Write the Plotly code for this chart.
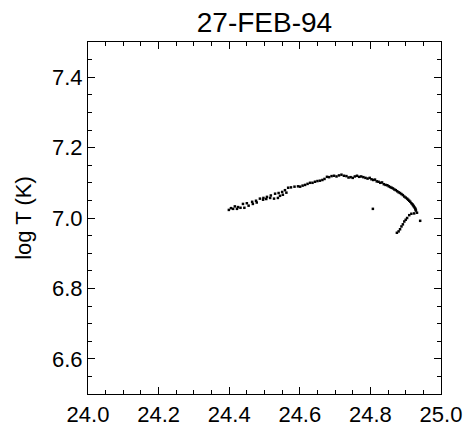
import plotly.graph_objects as go

title_text = "27-FEB-94"
y_label = "log T (K)"

# lower scattered segment, upper row
x_up = [24.405, 24.416, 24.425, 24.439, 24.450, 24.465, 24.476, 24.487, 24.497, 24.507,
        24.518, 24.530, 24.540, 24.550, 24.558, 24.567, 24.575, 24.585, 24.595]
y_up = [7.028, 7.033, 7.031, 7.040, 7.042, 7.046, 7.049, 7.055, 7.057, 7.060,
        7.064, 7.069, 7.071, 7.074, 7.079, 7.086, 7.087, 7.089, 7.090]
# lower scattered segment, lower row
x_lo = [24.399, 24.411, 24.422, 24.432, 24.443, 24.455, 24.467, 24.478, 24.496, 24.505,
        24.516, 24.527, 24.538, 24.544, 24.552, 24.562]
y_lo = [7.023, 7.026, 7.026, 7.029, 7.029, 7.035, 7.040, 7.044, 7.052, 7.054,
        7.057, 7.055, 7.057, 7.063, 7.066, 7.072]
# main arc
x_arc = [24.601, 24.608, 24.615, 24.622, 24.629, 24.636, 24.643, 24.650, 24.657, 24.664,
         24.670, 24.677, 24.683, 24.690, 24.697, 24.704, 24.711, 24.718, 24.725, 24.732,
         24.738, 24.744, 24.750, 24.756, 24.762, 24.768, 24.774, 24.780, 24.786, 24.792,
         24.798, 24.803, 24.808, 24.813, 24.818, 24.823, 24.828, 24.833, 24.838, 24.843,
         24.848, 24.852, 24.856, 24.860, 24.864, 24.868, 24.872, 24.876, 24.880, 24.884,
         24.888, 24.892, 24.896, 24.900, 24.904, 24.907, 24.910, 24.913, 24.916, 24.919,
         24.921, 24.923, 24.925, 24.927, 24.928, 24.929]
y_arc = [7.089, 7.092, 7.094, 7.097, 7.100, 7.100, 7.103, 7.105, 7.106, 7.108,
         7.111, 7.117, 7.116, 7.119, 7.120, 7.118, 7.121, 7.123, 7.120, 7.119,
         7.115, 7.116, 7.114, 7.118, 7.120, 7.117, 7.118, 7.116, 7.114, 7.112,
         7.114, 7.110, 7.108, 7.109, 7.104, 7.103, 7.100, 7.101, 7.096, 7.094,
         7.093, 7.090, 7.088, 7.086, 7.084, 7.081, 7.079, 7.076, 7.073, 7.071,
         7.068, 7.065, 7.061, 7.058, 7.055, 7.052, 7.049, 7.046, 7.042, 7.039,
         7.036, 7.033, 7.030, 7.027, 7.024, 7.021]
# isolated point and lower branch
x_br = [24.807, 24.932, 24.924, 24.916, 24.910, 24.904, 24.900, 24.896, 24.892, 24.888,
        24.884, 24.880, 24.875, 24.941]
y_br = [7.026, 7.015, 7.013, 7.012, 7.008, 7.000, 6.995, 6.990, 6.982, 6.976,
        6.968, 6.962, 6.958, 6.992]

x_all = x_up + x_lo + x_arc + x_br
y_all = y_up + y_lo + y_arc + y_br

x_ticks = [24.0, 24.2, 24.4, 24.6, 24.8, 25.0]
x_tick_labels = ["24.0", "24.2", "24.4", "24.6", "24.8", "25.0"]
y_ticks = [6.6, 6.8, 7.0, 7.2, 7.4]
y_tick_labels = ["6.6", "6.8", "7.0", "7.2", "7.4"]

fig = go.Figure()
fig.add_trace(go.Scatter(x=x_all, y=y_all, mode="markers",
                         marker=dict(symbol="square", size=2.5, color="black",
                                     line=dict(width=0)),
                         showlegend=False))

font = dict(family="Liberation Sans, Arial, sans-serif", color="black")
axis_common = dict(showline=True, linecolor="black", linewidth=1, mirror="ticks",
                   ticks="inside", ticklen=7, tickwidth=1, tickcolor="black",
                   showgrid=False, zeroline=False,
                   tickfont=dict(size=22, **font),
                   minor=dict(ticks="inside", ticklen=4, tickwidth=1, tickcolor="black",
                              dtick=0.05, showgrid=False))

fig.update_xaxes(range=[24.0, 25.0], tickvals=x_ticks, ticktext=x_tick_labels,
                 ticklabelstandoff=1, **axis_common)
fig.update_yaxes(range=[6.5, 7.5], tickvals=y_ticks, ticktext=y_tick_labels,
                 title=dict(text=y_label, font=dict(size=22, **font), standoff=14),
                 **axis_common)

fig.update_layout(
    width=469, height=423,
    margin=dict(l=88, r=28, t=42, b=29, autoexpand=False),
    paper_bgcolor="white", plot_bgcolor="white",
    title=dict(text=title_text, x=0.5, xanchor="center", xref="paper",
               y=0.948, yanchor="middle", font=dict(size=28, **font)),
)

fig.write_html("out.html")
